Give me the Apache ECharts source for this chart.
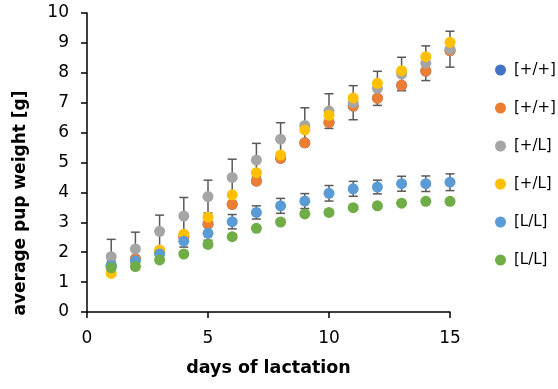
<!DOCTYPE html>
<html>
<head>
<meta charset="utf-8">
<script src="https://cdn.jsdelivr.net/npm/echarts@6/dist/echarts.min.js"></script>
<style>html,body{margin:0;padding:0;background:#fff}#c{width:558px;height:389px}</style>
</head>
<body>
<div id="c"></div>
<script>
var days = [1,2,3,4,5,6,7,8,9,10,11,12,13,14,15];
var seriesNames = ['[+/+]','[+/+]','[+/L]','[+/L]','[L/L]','[L/L]'];
var wtPP_a = [1.55,1.78,2.00,2.52,2.94,3.60,4.38,5.14,5.66,6.34,6.89,7.15,7.58,8.06,8.74];
var wtPP_b = [1.55,1.78,2.00,2.52,2.94,3.60,4.38,5.14,5.66,6.34,6.89,7.15,7.58,8.06,8.74];
var wtPL_a = [1.85,2.11,2.70,3.21,3.86,4.50,5.08,5.78,6.24,6.72,7.00,7.48,7.96,8.32,8.79];
var errPL  = [0.58,0.56,0.54,0.62,0.55,0.61,0.56,0.55,0.59,0.58,0.57,0.57,0.56,0.58,0.60];
var wtPL_b = [1.29,1.70,2.07,2.60,3.17,3.92,4.66,5.25,6.09,6.58,7.16,7.65,8.07,8.54,9.02];
var wtLL_a = [1.55,1.71,1.94,2.37,2.63,3.02,3.33,3.55,3.71,3.97,4.12,4.18,4.29,4.29,4.34];
var errLL  = [0.15,0.15,0.18,0.20,0.23,0.24,0.22,0.25,0.25,0.26,0.25,0.23,0.25,0.26,0.28];
var wtLL_b = [1.48,1.52,1.74,1.94,2.26,2.52,2.80,3.01,3.28,3.33,3.49,3.55,3.64,3.70,3.70];
var xTicks = [0,5,10,15];
var yTicks = [0,1,2,3,4,5,6,7,8,9,10];

var colors = ['#4472C4','#ED7D31','#A5A5A5','#FFC000','#5B9BD5','#70AD47'];
var FONT = 'DejaVu Sans';

function pts(vals){ return days.map(function(d,i){ return [d, vals[i]]; }); }
function errData(vals, errs){ return days.map(function(d,i){ return [d, vals[i]-errs[i], vals[i]+errs[i]]; }); }

function errSeries(vals, errs){
  return {
    type:'custom', z:1, silent:true, legendHoverLink:false,
    data: errData(vals, errs),
    renderItem: function(params, api){
      var x = api.value(0);
      var lo = api.coord([x, api.value(1)]);
      var hi = api.coord([x, api.value(2)]);
      var w = 4.5;
      var st = {stroke:'#595959', lineWidth:1.5, fill:null};
      return {type:'group', children:[
        {type:'line', shape:{x1:lo[0],y1:lo[1],x2:hi[0],y2:hi[1]}, style:st},
        {type:'line', shape:{x1:lo[0]-w,y1:lo[1],x2:lo[0]+w,y2:lo[1]}, style:st},
        {type:'line', shape:{x1:hi[0]-w,y1:hi[1],x2:hi[0]+w,y2:hi[1]}, style:st}
      ]};
    }
  };
}

var vals = [wtPP_a, wtPP_b, wtPL_a, wtPL_b, wtLL_a, wtLL_b];
var series = [errSeries(wtPL_a, errPL), errSeries(wtLL_a, errLL)];
vals.forEach(function(v,i){
  series.push({
    type:'scatter', name: seriesNames[i] + '\u200B'.repeat(i), z: 2+i,
    data: pts(v), symbol:'circle', symbolSize:11,
    itemStyle:{color:colors[i], opacity:1}
  });
});

var chart = echarts.init(document.getElementById('c'), null, {renderer:'canvas'});
chart.setOption({
  animation:false,
  backgroundColor:'#fff',
  grid:{left:87, right:108, top:13, bottom:77, containLabel:false},
  xAxis:{
    type:'value', min:0, max:15, interval:5,
    name:'days of lactation', nameLocation:'middle', nameGap:47,
    nameTextStyle:{fontFamily:FONT, fontWeight:'bold', fontSize:17.5, color:'#000'},
    axisLine:{show:true, onZero:false, lineStyle:{color:'#000', width:1.5}},
    axisTick:{show:true, length:6, lineStyle:{color:'#000', width:1.5}},
    axisLabel:{fontFamily:FONT, fontSize:17, color:'#000', margin:18,
      formatter:function(v){ return xTicks.indexOf(v)>=0 ? String(v) : ''; }},
    splitLine:{show:false}
  },
  yAxis:{
    type:'value', min:0, max:10, interval:1,
    axisLine:{show:true, onZero:false, lineStyle:{color:'#000', width:1.5}},
    axisTick:{show:true, length:6, lineStyle:{color:'#000', width:1.5}},
    axisLabel:{fontFamily:FONT, fontSize:17, color:'#000', margin:18,
      formatter:function(v){ return yTicks.indexOf(v)>=0 ? String(v) : ''; }},
    splitLine:{show:false}
  },
  legend:{
    orient:'vertical', left:490, top:55, itemGap:18, itemWidth:11, itemHeight:11,
    icon:'circle',
    textStyle:{fontFamily:FONT, fontSize:15, color:'#000', lineHeight:20, padding:[0,0,0,3]},
    formatter:function(n){ return n.replace(/\u200B/g,''); }
  },
  graphic:[{
    type:'text', x:21, y:203, rotation:Math.PI/2,
    style:{text:'average pup weight [g]', font:'bold 17px "DejaVu Sans"', fill:'#000',
      textAlign:'center', textVerticalAlign:'middle'}
  }],
  series: series
});
</script>
</body>
</html>
